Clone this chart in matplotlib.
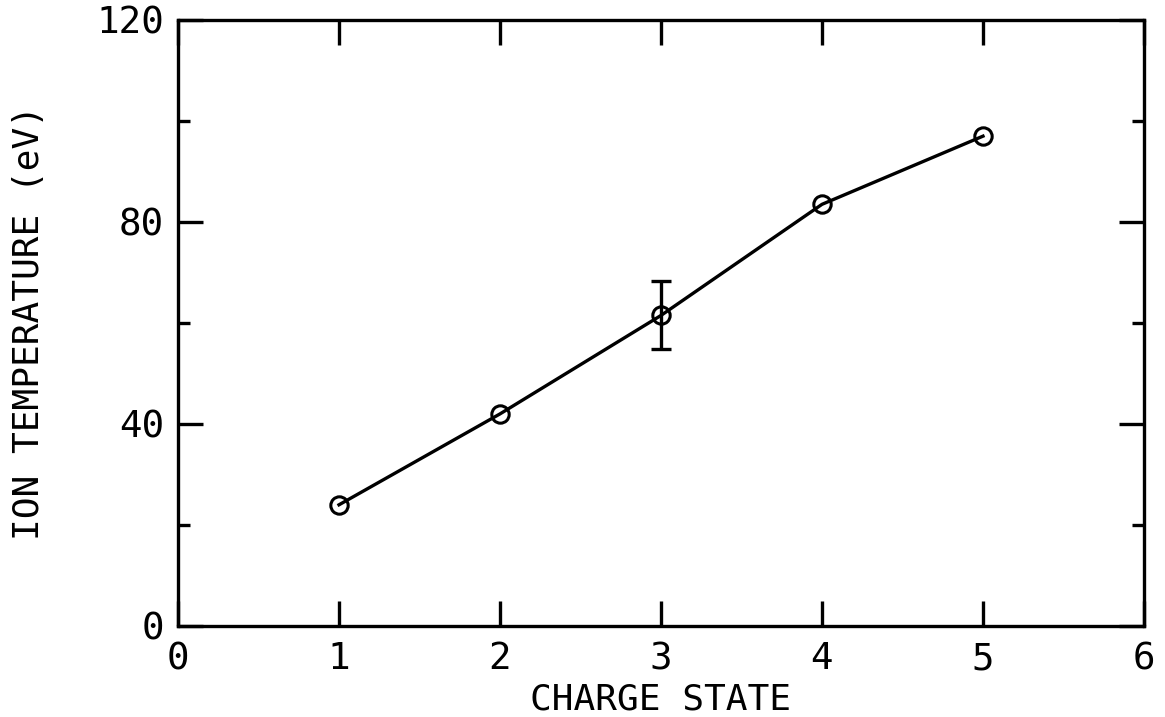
import numpy as np
import matplotlib
matplotlib.use("Agg")
import matplotlib.pyplot as plt
from matplotlib.ticker import MultipleLocator

# charge state vs ion temperature
charge_state = [1, 2, 3, 4, 5]
ion_temp = [24, 42, 61.5, 83.5, 97]
# only the Z=3 point carries an error bar
err_low = [0, 0, 6.6, 0, 0]
err_high = [0, 0, 6.8, 0, 0]

x_ticks = [0, 1, 2, 3, 4, 5, 6]
y_ticks = [0, 40, 80, 120]

plt.rcParams["font.family"] = ["DejaVu Sans Mono"]

fig = plt.figure(figsize=(11.65, 7.17), dpi=100)
ax = fig.add_axes([178 / 1165, 1 - 626 / 717, (1144 - 178) / 1165, (626 - 20) / 717])

lw = 2.4
ax.plot(charge_state, ion_temp, color="black", lw=lw, zorder=2)
ax.plot(charge_state, ion_temp, "o", ms=12.5, mfc="none", mec="black", mew=2.2, zorder=3)
ax.errorbar(charge_state[2], ion_temp[2], yerr=[[err_low[2]], [err_high[2]]],
            fmt="none", ecolor="black", elinewidth=lw, capsize=7, capthick=lw, zorder=3)

ax.set_xlim(0, 6)
ax.set_ylim(0, 120)
ax.set_xticks(x_ticks)
ax.set_yticks(y_ticks)
ax.yaxis.set_minor_locator(MultipleLocator(20))

for s in ax.spines.values():
    s.set_linewidth(lw)

ax.tick_params(which="major", direction="in", length=18, width=lw,
               top=True, right=True, labelsize=27, pad=10)
ax.tick_params(which="minor", direction="in", length=8.5, width=lw,
               left=True, right=True)
ax.tick_params(axis="x", pad=11)

ax.set_xlabel("CHARGE STATE", fontsize=26, labelpad=4)
ax.set_ylabel("ION TEMPERATURE (eV)", fontsize=26, labelpad=36)

fig.savefig("out.png", dpi=100)
